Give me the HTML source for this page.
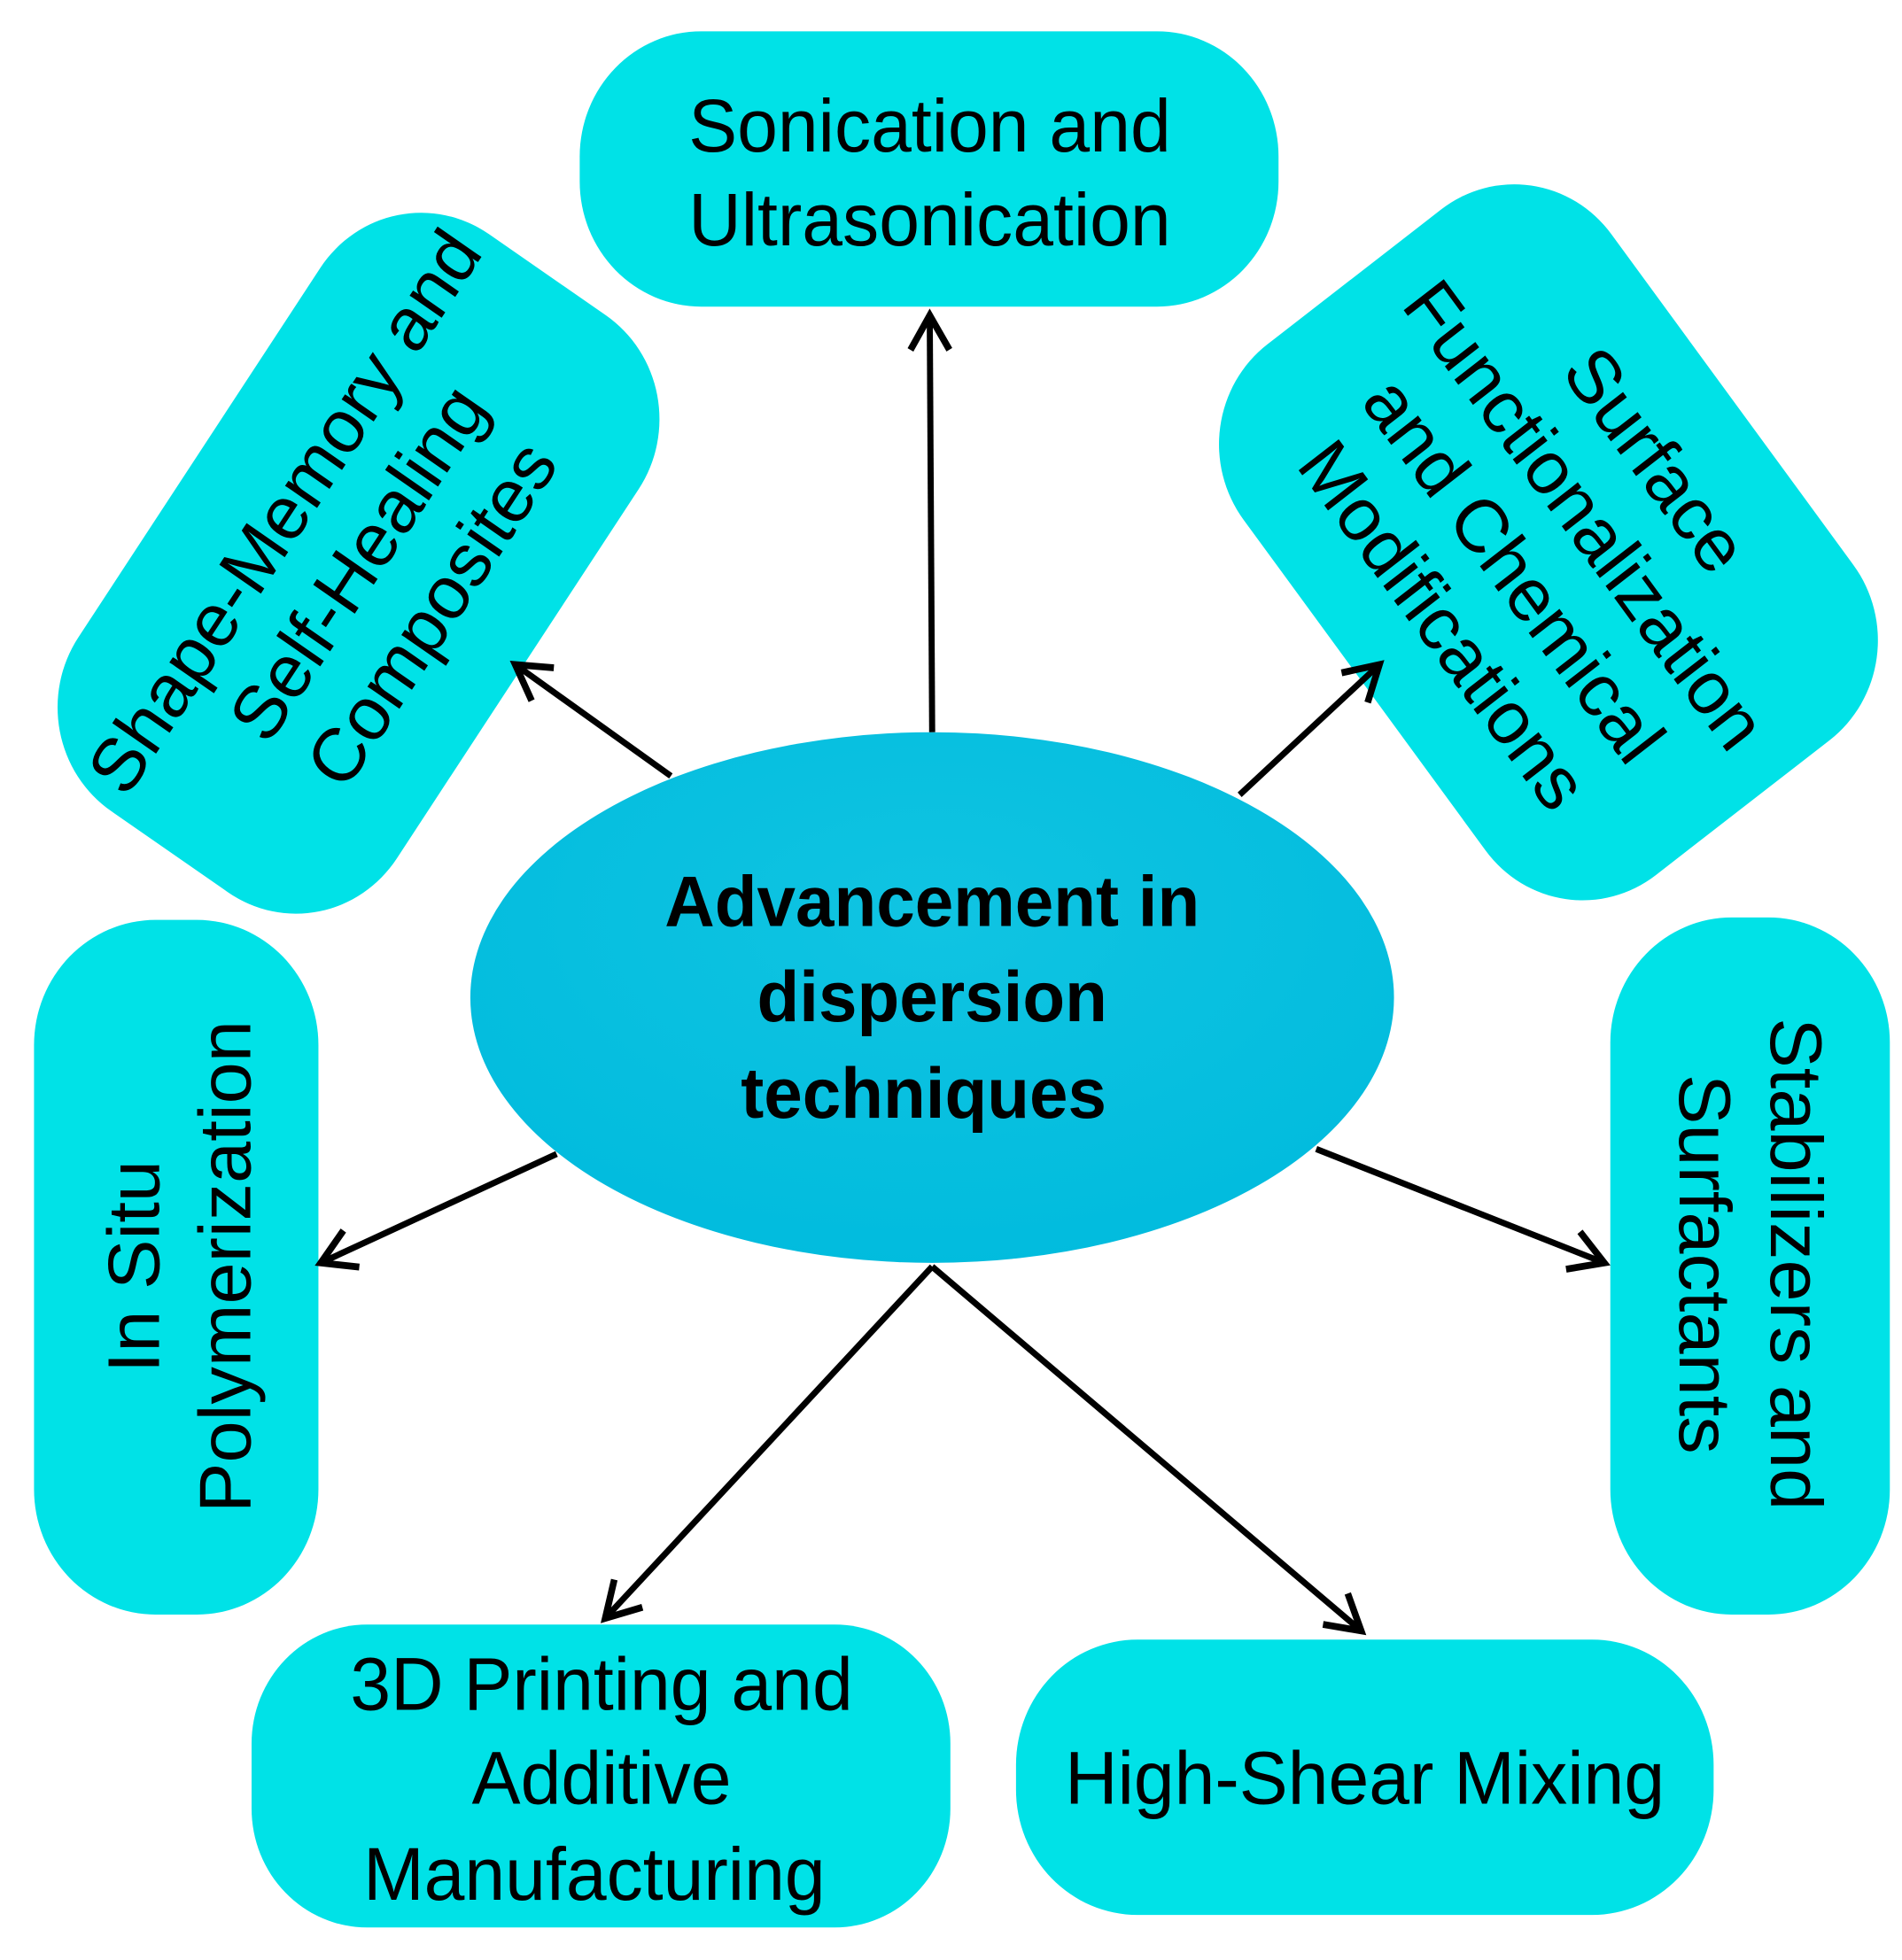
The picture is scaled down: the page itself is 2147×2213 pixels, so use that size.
<!DOCTYPE html>
<html><head><meta charset="utf-8"><style>
html,body{margin:0;padding:0;background:#fff;}
svg{display:block;}
text{font-family:"Liberation Sans",sans-serif;fill:#000;}
</style></head><body>
<svg width="2147" height="2213" viewBox="0 0 1565 1566" preserveAspectRatio="none" xmlns="http://www.w3.org/2000/svg">
<defs>
<radialGradient id="eg" cx="0.5" cy="0.35" r="0.7">
<stop offset="0" stop-color="#10C4E2"/><stop offset="1" stop-color="#00BBDD"/>
</radialGradient>
<marker id="ah" markerWidth="8" markerHeight="8" refX="6.5" refY="4" orient="auto" markerUnits="strokeWidth">
<path d="M1,0.8 L6.5,4 L1,7.2" fill="none" stroke="#000" stroke-width="1.1"/>
</marker>
</defs>
<g fill="#00E2E7">
<rect x="477" y="25" width="575" height="220" rx="100"/>
<rect x="-278" y="-158" width="556" height="316" rx="100" transform="translate(295,450) rotate(-56)"/>
<rect x="-266" y="-190" width="531" height="379" rx="100" transform="translate(1274,434) rotate(53)"/>
<rect x="28" y="735" width="234" height="555" rx="100"/>
<rect x="1325" y="733" width="230" height="557" rx="100"/>
<rect x="207" y="1298" width="575" height="242" rx="95"/>
<rect x="836" y="1310" width="574" height="220" rx="100"/>
</g>
<ellipse cx="767" cy="797" rx="380" ry="212" fill="url(#eg)"/>
<g stroke="#000" stroke-width="5" fill="none" marker-end="url(#ah)">
<line x1="767" y1="585" x2="765" y2="252"/>
<line x1="552" y1="620" x2="424" y2="531"/>
<line x1="1020" y1="635" x2="1135" y2="531"/>
<line x1="458" y1="922" x2="264" y2="1009"/>
<line x1="1083" y1="918" x2="1320" y2="1009"/>
<line x1="767" y1="1012" x2="498" y2="1293"/>
<line x1="767" y1="1012" x2="1120" y2="1303"/>
</g>
<g font-size="60" text-anchor="middle">
<text x="765" y="121">Sonication and</text>
<text x="765" y="196">Ultrasonication</text>
<g transform="translate(295,450) rotate(-56)">
<text x="0" y="-53">Shape-Memory and</text>
<text x="0" y="20">Self-Healing</text>
<text x="0" y="93">Composites</text>
</g>
<g transform="translate(1274,434) rotate(53)">
<text x="0" y="-90">Surface</text>
<text x="0" y="-17">Functionalization</text>
<text x="0" y="56">and Chemical</text>
<text x="0" y="129">Modifications</text>
</g>
<g transform="translate(148,1012) rotate(-90)">
<text x="0" y="-17">In Situ</text>
<text x="0" y="58">Polymerization</text>
</g>
<g transform="translate(1440,1010) rotate(90)">
<text x="0" y="-17">Stabilizers and</text>
<text x="0" y="58">Surfactants</text>
</g>
<text x="495" y="1366">3D Printing and</text>
<text x="495" y="1441">Additive</text>
<text x="489" y="1518">Manufacturing</text>
<text x="1123" y="1441">High-Shear Mixing</text>
</g>
<g font-size="57" font-weight="bold" text-anchor="middle">
<text x="767" y="740">Advancement in</text>
<text x="767" y="816">dispersion</text>
<text x="760" y="893">techniques</text>
</g>
</svg>
</body></html>
